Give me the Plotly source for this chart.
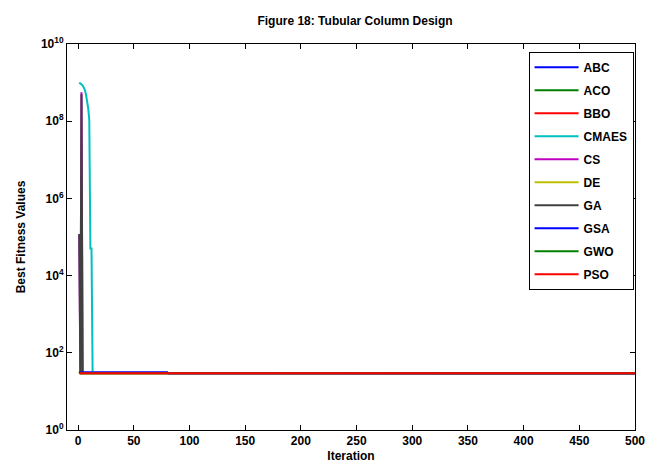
import plotly.graph_objects as go

# ---- data ----
algorithms = ["ABC", "ACO", "BBO", "CMAES", "CS", "DE", "GA", "GSA", "GWO", "PSO"]
colors = ["#0000ff", "#008000", "#ff0000", "#00bfbf", "#bf00bf",
          "#bfbf00", "#404040", "#0000ff", "#008000", "#ff0000"]

# convergence breakpoints (iteration, best fitness)
ABC_it = [1, 80, 81, 500];      ABC_val = [31, 31, 29.5, 29.5]
ACO_it = [1, 2, 500];           ACO_val = [33, 29.5, 29.5]
BBO_it = [1, 2, 500];           BBO_val = [31, 29.5, 29.5]
CMAES_it = [1, 2, 3, 4, 5, 6, 7, 8, 9, 10, 11, 12, 13, 500]
CMAES_val = [1.0e9, 9.5e8, 9.0e8, 8.5e8, 7.5e8, 6.5e8, 5.0e8, 3.5e8,
             2.2e8, 1.1e8, 5.0e4, 5.0e4, 30, 29.5]
CS_it = [1, 2, 3, 4, 500];      CS_val = [1.2e5, 30, 5.6e8, 30, 29.5]
DE_it = [1, 2, 500];            DE_val = [32, 29.5, 29.5]
GA_it = [1, 2, 3, 4, 500];      GA_val = [1.2e5, 30, 5.0e8, 30, 29.5]
GSA_it = [1, 80, 81, 500];      GSA_val = [31, 31, 29.5, 29.5]
GWO_it = [1, 2, 500];           GWO_val = [30, 29.5, 29.5]
PSO_it = [1, 2, 500];           PSO_val = [30, 29.5, 29.5]

series = {
    "ABC": (ABC_it, ABC_val), "ACO": (ACO_it, ACO_val), "BBO": (BBO_it, BBO_val),
    "CMAES": (CMAES_it, CMAES_val), "CS": (CS_it, CS_val), "DE": (DE_it, DE_val),
    "GA": (GA_it, GA_val), "GSA": (GSA_it, GSA_val), "GWO": (GWO_it, GWO_val),
    "PSO": (PSO_it, PSO_val),
}

x_ticks = [0, 50, 100, 150, 200, 250, 300, 350, 400, 450, 500]
y_tick_exps = [0, 2, 4, 6, 8, 10]

FONT = "Liberation Sans, Arial, sans-serif"

fig = go.Figure()
for name, col in zip(algorithms, colors):
    it, val = series[name]
    fig.add_trace(go.Scatter(
        x=it, y=val, mode="lines", name=name, legendgroup=name,
        line=dict(color=col, width=2),
    ))

fig.update_layout(
    width=657, height=473,
    margin=dict(l=67, r=14, t=44, b=42),
    paper_bgcolor="white", plot_bgcolor="white",
    font=dict(family=FONT, size=12, color="black"),
    title=dict(text="<b>Figure 18: Tubular Column Design</b>",
               x=(67 + 643) / 2 / 657, xanchor="center",
               y=1 - 21 / 473, yanchor="middle",
               font=dict(family=FONT, size=12, color="black")),
    legend=dict(
        x=0.9975, xanchor="right", y=0.98, yanchor="top",
        bgcolor="white", bordercolor="black", borderwidth=1,
        font=dict(family=FONT, size=12, color="black", weight="bold"),
        tracegroupgap=4, itemwidth=44,
    ),
    showlegend=True,
)

fig.update_xaxes(
    range=[-10, 500], tickvals=x_ticks, ticktext=[str(v) for v in x_ticks],
    ticks="inside", ticklen=5, tickcolor="black", mirror="ticks",
    showline=True, linecolor="black", linewidth=1, showgrid=False, zeroline=False,
    tickfont=dict(family=FONT, size=12, weight="bold"),
    title=dict(text="<b>Iteration</b>", standoff=4,
               font=dict(family=FONT, size=12)),
)
fig.update_yaxes(
    type="log", range=[0, 10],
    tickvals=[10 ** e for e in y_tick_exps],
    ticktext=["10<sup>%d</sup>" % e for e in y_tick_exps],
    ticks="inside", ticklen=5, tickcolor="black", mirror="ticks",
    showline=True, linecolor="black", linewidth=1, showgrid=False, zeroline=False,
    tickfont=dict(family=FONT, size=12, weight="bold"),
    title=dict(text="<b>Best Fitness Values</b>", standoff=12,
               font=dict(family=FONT, size=12)),
)

fig.write_html("out.html")
